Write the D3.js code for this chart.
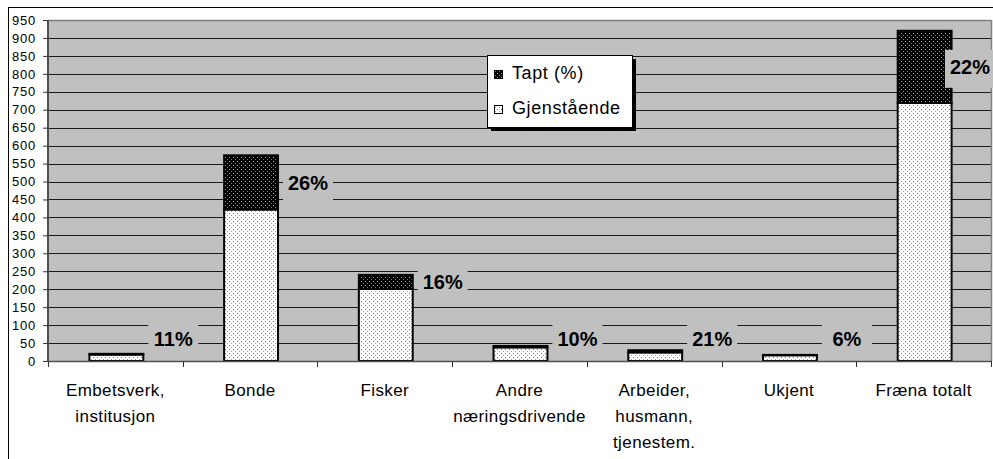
<!DOCTYPE html>
<html>
<head>
<meta charset="utf-8">
<script src="https://cdn.jsdelivr.net/npm/d3@7/dist/d3.min.js"></script>
<style>
  html, body { margin: 0; padding: 0; background: #fff; }
  svg { display: block; font-family: "Liberation Sans", Arial, sans-serif; }
</style>
</head>
<body>
<svg id="chart" width="993" height="459"></svg>
<script>
const categories = ["Embetsverk,\ninstitusjon", "Bonde", "Fisker", "Andre\nnæringsdrivende", "Arbeider,\nhusmann,\ntjenestem.", "Ukjent", "Fræna totalt"];
const remaining = [18, 422, 201, 38, 24, 16, 719];
const lost = [2, 151, 39, 4, 6, 1, 201];
const pctLabels = ["11%", "26%", "16%", "10%", "21%", "6%", "22%"];
const yTicks = d3.range(0, 951, 50);
const seriesNames = ["Tapt (%)", "Gjenstående"];

(function () {
const svg = d3.select("#chart");
const pLeft = 48, pRight = 991, pTop = 20, pBottom = 361;

// patterns
const defs = svg.append("defs");
const pT = defs.append("pattern").attr("id", "patTapt").attr("patternUnits", "userSpaceOnUse")
  .attr("width", 4).attr("height", 4);
pT.append("rect").attr("width", 4).attr("height", 4).attr("fill", "#000");
pT.append("rect").attr("x", 1).attr("y", 1).attr("width", 1).attr("height", 1).attr("fill", "#b0b0b0");
pT.append("rect").attr("x", 3).attr("y", 3).attr("width", 1).attr("height", 1).attr("fill", "#808080");
const pG = defs.append("pattern").attr("id", "patGjen").attr("patternUnits", "userSpaceOnUse")
  .attr("width", 4).attr("height", 4);
pG.append("rect").attr("width", 4).attr("height", 4).attr("fill", "#fff");
pG.append("rect").attr("x", 1).attr("y", 1).attr("width", 1).attr("height", 1).attr("fill", "#707070");
pG.append("rect").attr("x", 3).attr("y", 3).attr("width", 1).attr("height", 1).attr("fill", "#a0a0a0");

// outer chart border
svg.append("rect").attr("x", 8.5).attr("y", 7.5).attr("width", 1000).attr("height", 500)
  .attr("fill", "#fff").attr("stroke", "#000").attr("stroke-width", 1);

const x = d3.scaleBand().domain(categories).range([pLeft, pRight]).paddingInner(0).paddingOuter(0);
const y = d3.scaleLinear().domain([0, 950]).range([pBottom, pTop]);

// plot area
svg.append("rect").attr("x", pLeft).attr("y", pTop).attr("width", pRight - pLeft).attr("height", pBottom - pTop)
  .attr("fill", "#c0c0c0");

// gridlines
svg.append("g").selectAll("line").data(yTicks.filter(v => v > 0 && v < 950)).join("line")
  .attr("x1", pLeft).attr("x2", pRight)
  .attr("y1", d => Math.round(y(d)) + 0.5).attr("y2", d => Math.round(y(d)) + 0.5)
  .attr("stroke", "#1a1a1a").attr("stroke-width", 1);

// plot frame top/right
svg.append("line").attr("x1", pLeft).attr("x2", pRight).attr("y1", pTop + 0.5).attr("y2", pTop + 0.5)
  .attr("stroke", "#808080").attr("stroke-width", 1.5);
svg.append("line").attr("x1", pRight + 0.5).attr("x2", pRight + 0.5).attr("y1", pTop).attr("y2", pBottom)
  .attr("stroke", "#808080").attr("stroke-width", 1.5);

// bars
const bw = x.bandwidth() * 0.4;
const bx = i => x(categories[i]) + x.bandwidth() / 2 + 1 - bw / 2;
const gBars = svg.append("g");
gBars.selectAll("rect.gjen").data(remaining).join("rect").attr("class", "gjen")
  .attr("x", (d, i) => bx(i)).attr("width", bw)
  .attr("y", d => y(d)).attr("height", d => y(0) - y(d))
  .attr("fill", "url(#patGjen)").attr("stroke", "#000").attr("stroke-width", 2);
gBars.selectAll("rect.tapt").data(lost).join("rect").attr("class", "tapt")
  .attr("x", (d, i) => bx(i)).attr("width", bw)
  .attr("y", (d, i) => y(remaining[i] + d)).attr("height", (d, i) => y(remaining[i]) - y(remaining[i] + d))
  .attr("fill", "url(#patTapt)").attr("stroke", "#000").attr("stroke-width", 2);

// axes lines
svg.append("line").attr("x1", pLeft).attr("x2", pLeft).attr("y1", pTop).attr("y2", pBottom + 1)
  .attr("stroke", "#505050").attr("stroke-width", 2);
svg.append("line").attr("x1", pLeft).attr("x2", pRight + 1).attr("y1", pBottom + 0.5).attr("y2", pBottom + 0.5)
  .attr("stroke", "#505050").attr("stroke-width", 1.5);

// y axis
const yAxis = d3.axisLeft(y).tickValues(yTicks).tickSize(5).tickPadding(7).tickFormat(d3.format("d"));
const gy = svg.append("g").attr("transform", `translate(${pLeft},0)`).call(yAxis);
gy.select(".domain").remove();
gy.selectAll(".tick line").attr("stroke", "#333");
gy.selectAll(".tick text").attr("font-size", 13).attr("letter-spacing", "0.8px")
  .attr("font-family", "Liberation Sans, Arial, sans-serif").attr("fill", "#000");

// x axis ticks at band boundaries
const bounds = categories.map(c => x(c)).concat([pRight]);
svg.append("g").selectAll("line").data(bounds).join("line")
  .attr("x1", d => Math.round(d) + 0.5).attr("x2", d => Math.round(d) + 0.5)
  .attr("y1", pBottom).attr("y2", pBottom + 6).attr("stroke", "#333").attr("stroke-width", 1);

// x labels
const gx = svg.append("g");
categories.forEach(c => {
  const t = gx.append("text").attr("text-anchor", "middle").attr("font-size", 17)
    .attr("letter-spacing", "0.4px").attr("fill", "#000");
  c.split("\n").forEach((line, j) => {
    t.append("tspan").attr("x", x(c) + x.bandwidth() / 2).attr("y", 396 + j * 26).text(line);
  });
});

// percentage labels
const gl = svg.append("g");
pctLabels.forEach((lab, i) => {
  const segMid = (y(remaining[i] + lost[i]) + y(remaining[i])) / 2;
  const cy = Math.min(segMid, 339);
  const cx = Math.min(bx(i) + bw + 30, pRight - 21);
  gl.append("rect").attr("x", cx - 25).attr("y", cy + 2 - 19).attr("width", 50).attr("height", 38)
    .attr("fill", "#c0c0c0");
  gl.append("text").attr("x", cx).attr("y", cy).attr("dy", "0.36em").attr("text-anchor", "middle")
    .attr("font-size", 20).attr("font-weight", "bold").attr("fill", "#000").text(lab);
});

// legend
const lg = svg.append("g");
lg.append("rect").attr("x", 491).attr("y", 59).attr("width", 145).attr("height", 72).attr("fill", "#000");
lg.append("rect").attr("x", 487.5).attr("y", 55.5).attr("width", 145).attr("height", 72)
  .attr("fill", "#fff").attr("stroke", "#000").attr("stroke-width", 1);
const legendFills = ["url(#patTapt)", "url(#patGjen)"];
const legendY = [79, 114];
seriesNames.forEach((n, i) => {
  lg.append("rect").attr("x", 494.5).attr("y", legendY[i] - 8.5).attr("width", 8).attr("height", 8)
    .attr("fill", legendFills[i]).attr("stroke", "#000").attr("stroke-width", 1);
  lg.append("text").attr("x", 512).attr("y", legendY[i]).attr("font-size", 18)
    .attr("letter-spacing", "0.6px").attr("fill", "#000").text(n);
});
})();
</script>
</body>
</html>
